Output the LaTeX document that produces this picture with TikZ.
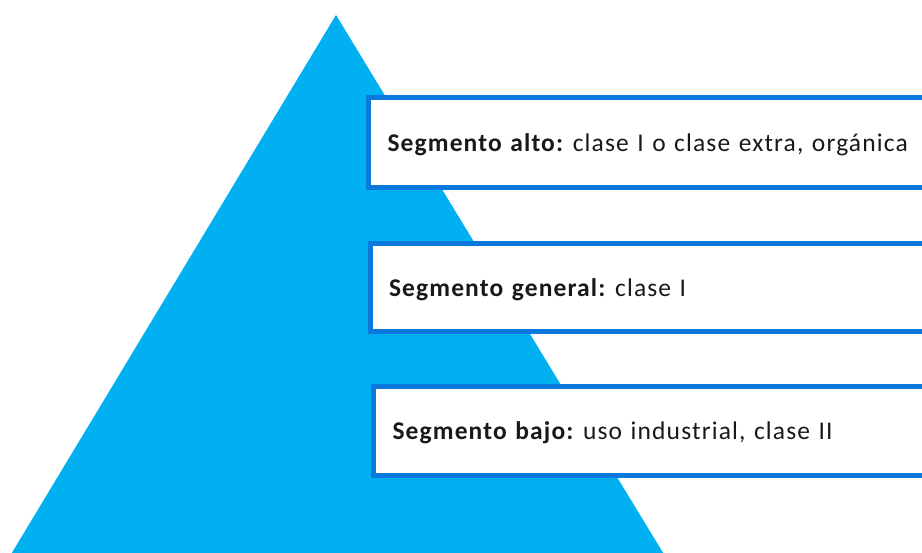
\documentclass[tikz,border=0pt]{standalone}
\usepackage{fontspec}
\setmainfont{Carlito}[LetterSpace=4.5]
\definecolor{pyrblue}{HTML}{00B0F0}
\definecolor{boxblue}{HTML}{0A78DC}
\begin{document}
\frenchspacing
\begin{tikzpicture}[x=1pt,y=-1pt,
  segbox/.style={draw=boxblue, line width=5pt, fill=white, anchor=north west, outer sep=0pt,
    minimum width=620pt, minimum height=90pt, text width=582pt, inner xsep=19pt,
    text height=20pt, text depth=2pt,
    align=left, font=\fontsize{25.5}{29}\selectfont, text=black!90}]
\useasboundingbox (0,0) rectangle (922,553);
\clip (0,0) rectangle (922,553);
\fill[pyrblue] (336,15) -- (10,556) -- (665,556) -- cycle;
\node[segbox] (alto) at (368.5,97.5) {\textbf{Segmento alto:} clase I o clase extra, orgánica};
\node[segbox, minimum height=88pt] (general) at (370,243.5) {\textbf{Segmento general:} clase I};
\node[segbox, minimum height=89pt] (bajo) at (373.5,386.5) {\textbf{Segmento bajo:} uso industrial, clase II};
\end{tikzpicture}
\end{document}
